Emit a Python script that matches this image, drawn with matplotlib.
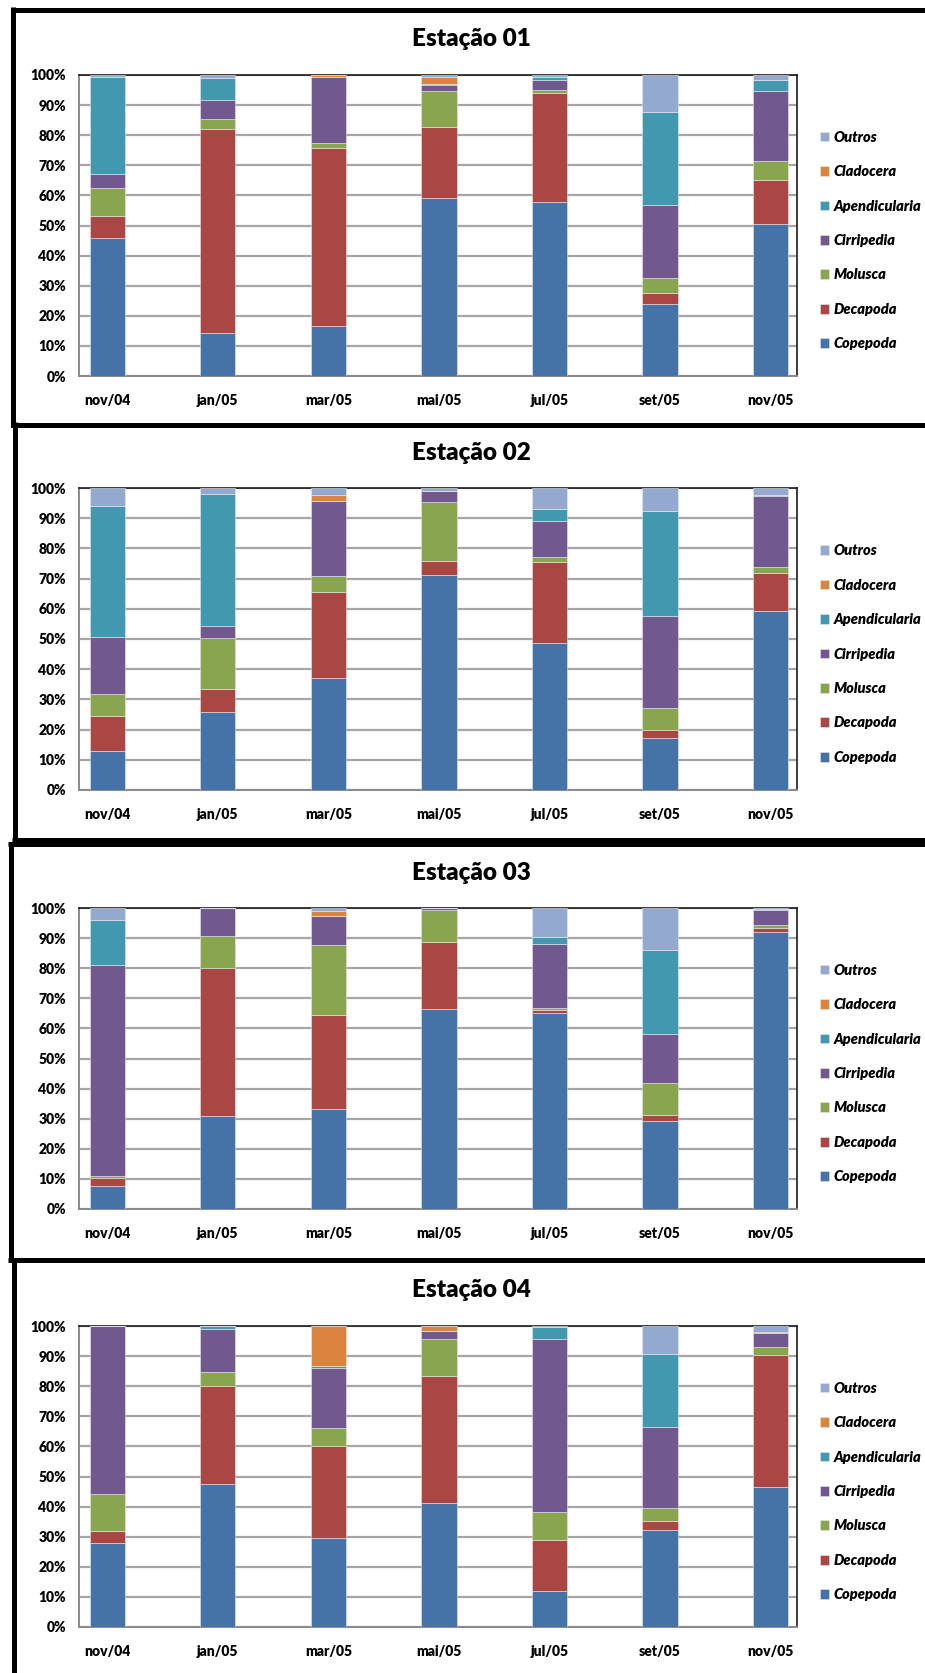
import numpy as np
import matplotlib
matplotlib.use("Agg")
import matplotlib.pyplot as plt
from matplotlib.lines import Line2D
from matplotlib.ticker import PercentFormatter

plt.rcParams['font.family'] = ['Lato', 'DejaVu Sans']

meses = ['nov/04', 'jan/05', 'mar/05', 'mai/05', 'jul/05', 'set/05', 'nov/05']
grupos = ['Copepoda', 'Decapoda', 'Molusca', 'Cirripedia', 'Apendicularia', 'Cladocera', 'Outros']
cores = ['#4572A7', '#AA4643', '#89A54E', '#71588F', '#4198AF', '#DB843D', '#93A9CF']

# abundancia relativa (%) por grupo, uma linha por grupo na ordem de `grupos`
estacao01 = [
    [46.0, 14.4, 16.7, 59.0, 57.9, 24.0, 50.6],
    [7.0, 67.7, 59.2, 23.7, 36.0, 3.5, 14.5],
    [9.5, 3.2, 1.6, 12.1, 1.0, 5.1, 6.2],
    [4.6, 6.4, 21.7, 1.8, 3.4, 24.2, 23.5],
    [32.1, 7.3, 0.0, 0.3, 0.9, 30.9, 3.4],
    [0.0, 0.0, 0.8, 2.4, 0.0, 0.0, 0.0],
    [0.8, 1.0, 0.0, 0.7, 0.8, 12.3, 1.8],
]
estacao02 = [
    [13.0, 25.7, 37.2, 71.3, 48.7, 17.2, 59.4],
    [11.5, 7.7, 28.4, 4.6, 26.9, 2.7, 12.3],
    [7.4, 16.8, 5.1, 19.3, 1.5, 7.4, 2.0],
    [18.8, 4.2, 24.9, 3.8, 12.0, 30.3, 23.5],
    [43.3, 43.6, 0.0, 0.0, 3.9, 34.9, 0.4],
    [0.0, 0.0, 2.0, 0.0, 0.0, 0.0, 0.0],
    [6.0, 2.0, 2.4, 1.0, 7.0, 7.5, 2.4],
]
estacao03 = [
    [7.5, 30.9, 33.2, 66.3, 65.0, 29.4, 91.9],
    [2.9, 49.1, 31.4, 22.5, 1.2, 1.9, 1.5],
    [0.6, 10.6, 23.2, 10.4, 0.5, 10.4, 0.8],
    [70.2, 9.4, 9.5, 0.8, 21.4, 16.4, 5.1],
    [14.7, 0.0, 0.0, 0.0, 2.3, 28.0, 0.5],
    [0.0, 0.0, 1.6, 0.0, 0.0, 0.0, 0.0],
    [4.1, 0.0, 1.1, 0.0, 9.6, 13.9, 0.2],
]
estacao04 = [
    [28.0, 47.6, 29.6, 41.3, 12.0, 32.2, 46.6],
    [3.9, 32.4, 30.4, 42.1, 16.9, 3.0, 43.8],
    [12.4, 4.6, 6.2, 12.4, 9.2, 4.4, 2.7],
    [55.7, 14.3, 19.8, 2.5, 57.6, 26.8, 4.6],
    [0.0, 1.1, 0.6, 0.0, 4.1, 24.2, 0.0],
    [0.0, 0.0, 13.4, 1.7, 0.0, 0.0, 0.3],
    [0.0, 0.0, 0.0, 0.0, 0.2, 9.4, 2.0],
]

estacoes = [('Estação 01', estacao01), ('Estação 02', estacao02),
            ('Estação 03', estacao03), ('Estação 04', estacao04)]

W, H = 925, 1673
fig = plt.figure(figsize=(W / 100, H / 100), dpi=100)

def fx(px):
    return px / W

def fy(py):
    return 1 - py / H

# topo e base de cada area de plotagem, em pixels
limites = [(75, 376), (488, 790), (908, 1209), (1326, 1627)]
titulos_y = [39, 453, 873, 1290]

x = np.arange(len(meses))
for (titulo, dados), (y0, y1), ty in zip(estacoes, limites, titulos_y):
    ax = fig.add_axes([fx(78.5), fy(y1), fx(797 - 78.5), (y1 - y0) / H])
    base = np.zeros(len(meses))
    handles = []
    for nome, cor, valores in zip(grupos, cores, dados):
        valores = np.array(valores)
        b = ax.bar(x, valores, 0.32, bottom=base, color=cor, label=nome,
                   edgecolor='#e8e8e8', linewidth=0.4, zorder=3)
        handles.append(b)
        base += valores
    ax.set_xlim(-0.26, 6.24)
    ax.set_ylim(0, 100)
    ax.set_yticks(np.arange(0, 101, 10))
    ax.yaxis.set_major_formatter(PercentFormatter(decimals=0))
    ax.set_xticks(x)
    ax.set_xticklabels(meses)
    ax.tick_params(length=0, labelsize=10)
    ax.tick_params(axis='y', pad=9)
    ax.tick_params(axis='x', pad=13)
    for lab in ax.get_xticklabels() + ax.get_yticklabels():
        lab.set_fontweight('heavy')
    ax.grid(axis='y', color='#a6a6a6', linewidth=1.6, zorder=0)
    ax.set_axisbelow(True)
    for lado in ['left', 'bottom']:
        ax.spines[lado].set_color('#8a8a8a')
        ax.spines[lado].set_linewidth(1.4)
    for lado in ['top', 'right']:
        ax.spines[lado].set_color('#1a1a1a')
        ax.spines[lado].set_linewidth(1.2)

    ax.legend(handles[::-1], grupos[::-1], loc='center left',
              bbox_to_anchor=(1.032, 0.45), frameon=False,
              prop={'weight': 'heavy', 'style': 'italic', 'size': 10.5},
              handlelength=0.65, handleheight=0.65, handletextpad=0.3,
              labelspacing=1.47, borderaxespad=0, borderpad=0)

    fig.text(fx(471), fy(ty), titulo, ha='center', va='center',
             fontsize=17.5, fontweight='heavy')

# molduras pretas de cada quadro
def linha(xs, ys):
    fig.add_artist(Line2D([fx(v) for v in xs], [fy(v) for v in ys],
                          color='black', linewidth=3.6,
                          solid_capstyle='butt', transform=fig.transFigure))

linha([10.5, 925], [9.5, 9.5])
linha([13, 13], [7, 427])
linha([10.5, 925], [424.5, 424.5])
linha([14.5, 14.5], [422, 842])
linha([12, 925], [840, 840])
linha([8, 925], [844, 844])
linha([10.5, 10.5], [842, 1262])
linha([8, 925], [1260, 1260])
linha([14, 14], [1258, 1673])

fig.savefig('out.png', dpi=100)
